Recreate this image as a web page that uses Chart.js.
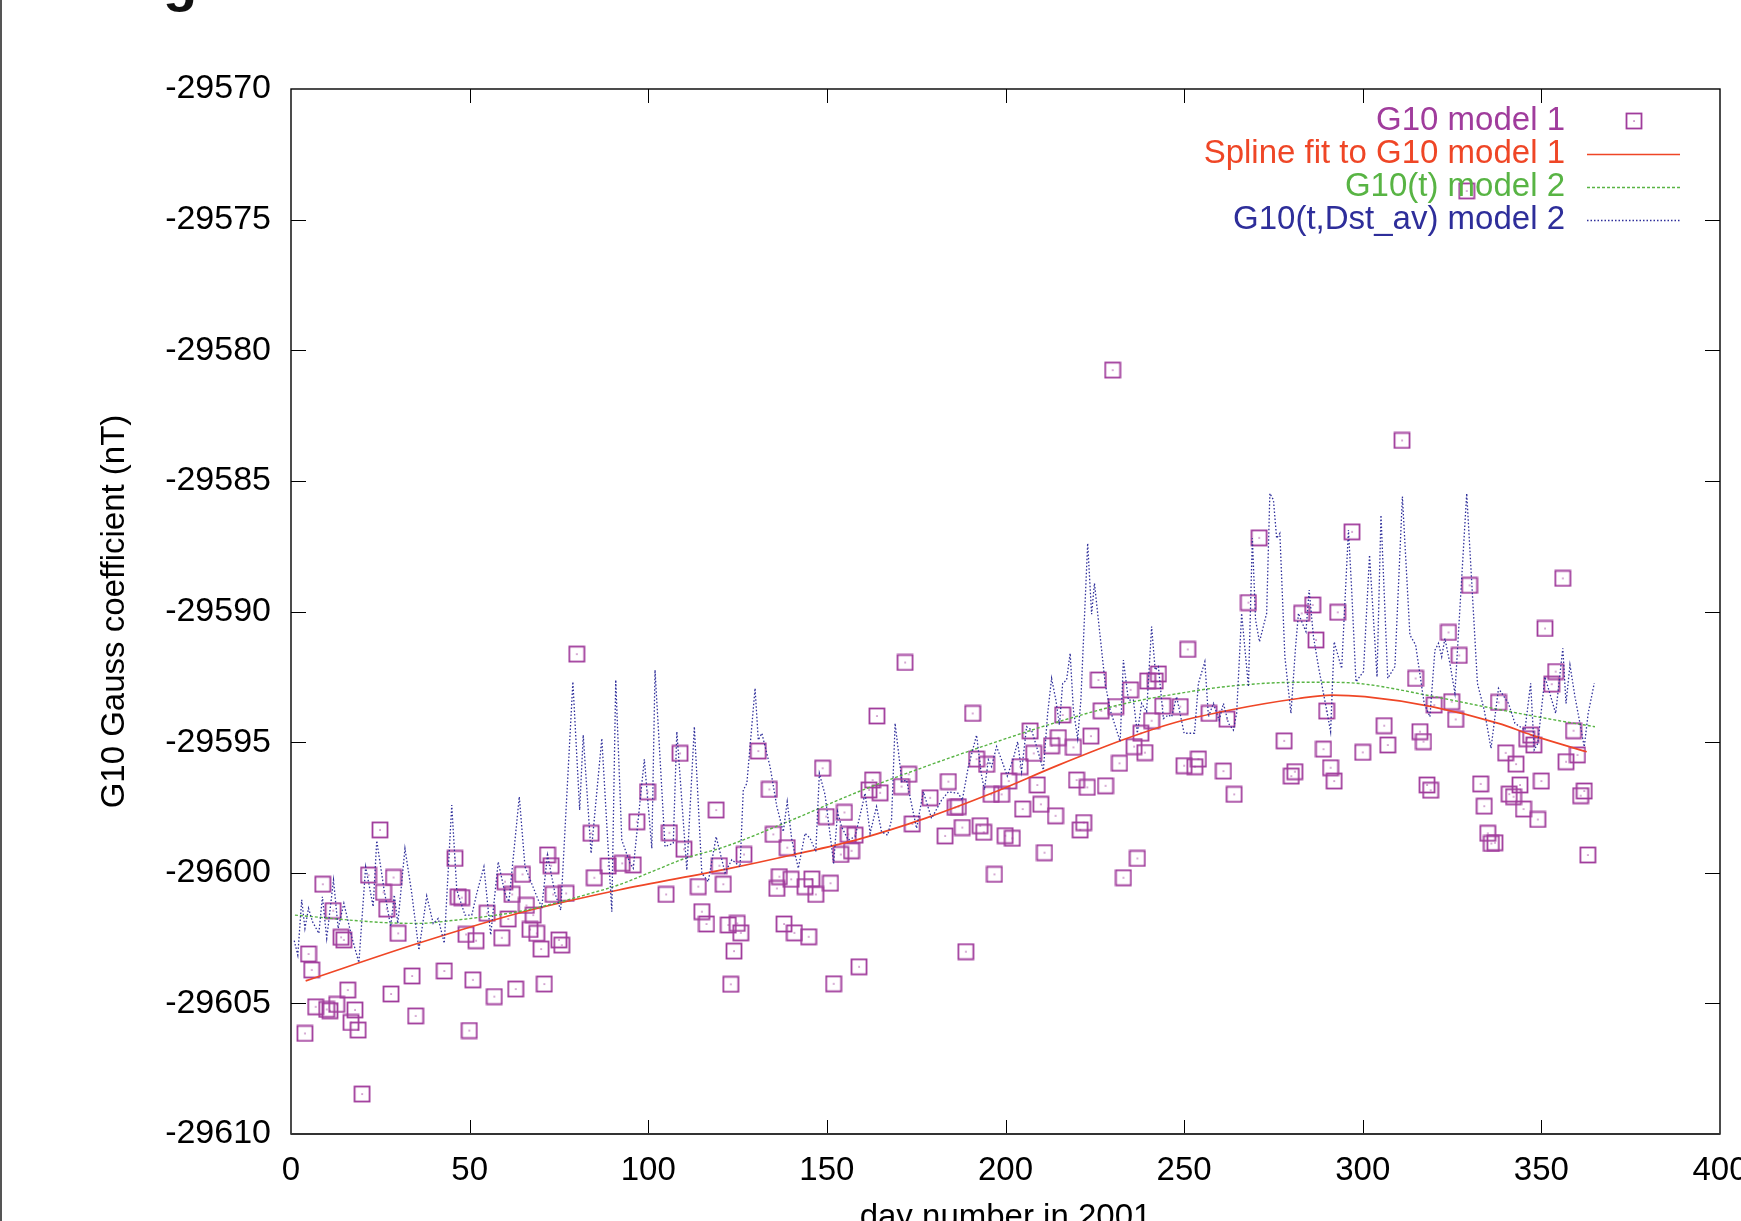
<!DOCTYPE html>
<html>
<head>
<meta charset="utf-8">
<script src="https://cdn.jsdelivr.net/npm/chart.js@4.4.1/dist/chart.umd.min.js"></script>
<style>
html, body { margin: 0; padding: 0; background: #fff; }
canvas { display: block; }
</style>
</head>
<body>
<canvas id="chart" width="1741" height="1221"></canvas>
<script>
// day, value pairs
const g10Model1 = [
  [80.0,-29591.63],[24.9,-29598.36],[45.9,-29599.45],[108.9,-29595.43],[99.8,-29596.90],[96.8,-29598.05],
  [119.0,-29597.60],[84.0,-29598.49],[105.9,-29598.47],[110.0,-29599.10],[71.8,-29599.32],[72.8,-29599.73],
  [21.7,-29600.09],[28.7,-29600.18],[8.9,-29600.44],[84.9,-29600.19],[88.8,-29599.74],[92.7,-29599.64],
  [95.8,-29599.70],[64.8,-29600.06],[59.9,-29600.34],[119.9,-29599.73],[114.0,-29600.53],[121.0,-29600.44],
  [105.0,-29600.83],[25.9,-29600.75],[26.8,-29601.39],[11.8,-29601.45],[46.8,-29600.92],[47.8,-29600.95],
  [61.9,-29600.83],[54.9,-29601.55],[65.9,-29601.25],[67.8,-29601.62],[60.8,-29601.77],[73.4,-29600.83],
  [77.0,-29600.79],[115.0,-29601.49],[116.3,-29601.96],[14.0,-29602.47],[14.8,-29602.57],[30.0,-29602.32],
  [49.0,-29602.36],[51.8,-29602.60],[59.0,-29602.49],[66.9,-29602.17],[68.8,-29602.32],[70.0,-29602.92],
  [75.0,-29602.57],[75.8,-29602.77],[4.9,-29603.11],[5.8,-29603.72],[15.9,-29604.49],[33.9,-29603.95],
  [42.9,-29603.76],[50.9,-29604.10],[28.0,-29604.64],[56.9,-29604.74],[62.9,-29604.45],[70.9,-29604.26],
  [6.9,-29605.13],[10.0,-29605.23],[10.9,-29605.28],[12.8,-29605.04],[17.9,-29605.25],[16.8,-29605.73],
  [18.8,-29606.02],[3.9,-29606.15],[34.9,-29605.48],[49.9,-29606.04],[19.9,-29608.47],
  [171.9,-29591.95],[164.0,-29594.00],[190.8,-29593.90],[130.8,-29595.34],[133.9,-29596.81],[148.8,-29596.00],
  [135.0,-29598.53],[138.9,-29599.04],[126.8,-29599.30],[149.8,-29597.85],[154.9,-29597.69],[156.0,-29598.53],
  [157.9,-29598.56],[156.9,-29599.16],[153.9,-29599.30],[162.8,-29596.45],[161.8,-29596.83],[164.9,-29596.94],
  [170.9,-29596.70],[172.9,-29596.23],[178.9,-29597.13],[173.9,-29598.13],[184.0,-29596.51],[185.9,-29597.50],
  [186.8,-29597.47],[191.9,-29595.65],[194.7,-29595.85],[183.1,-29598.59],[187.9,-29598.27],[192.9,-29598.20],
  [193.9,-29598.45],[196.0,-29597.00],[198.9,-29597.00],[200.9,-29596.49],[204.1,-29595.94],[206.9,-29594.57],
  [207.9,-29595.43],[199.9,-29598.58],[201.9,-29598.68],[204.8,-29597.56],[208.9,-29596.64],[209.9,-29597.38],
  [214.0,-29597.82],[210.9,-29599.23],[196.9,-29600.06],[212.9,-29595.14],[214.8,-29594.83],[219.0,-29595.20],
  [216.0,-29593.96],[223.9,-29594.77],[226.0,-29592.62],[226.8,-29593.80],[230.9,-29593.64],[235.0,-29593.00],
  [239.8,-29592.66],[241.9,-29592.66],[242.8,-29592.39],[244.0,-29593.62],[240.9,-29594.18],[231.9,-29595.81],
  [236.0,-29595.17],[237.9,-29594.66],[239.0,-29595.40],[219.9,-29596.45],[222.9,-29596.73],[228.0,-29596.67],
  [221.9,-29598.08],[220.9,-29598.36],[236.9,-29599.45],[233.0,-29600.19],[136.7,-29600.15],[136.0,-29600.60],
  [140.0,-29600.25],[143.9,-29600.53],[145.8,-29600.24],[146.9,-29600.83],[151.0,-29600.40],[122.4,-29602.00],
  [124.9,-29601.94],[125.9,-29602.30],[124.0,-29603.00],[123.1,-29604.27],[138.0,-29601.96],[140.9,-29602.30],
  [144.9,-29602.45],[159.0,-29603.60],[151.9,-29604.25],[188.9,-29603.02],[230.0,-29580.76],
  [297.0,-29586.95],[271.0,-29587.18],[268.0,-29589.66],[282.9,-29590.07],[286.0,-29589.75],[286.9,-29591.09],
  [293.0,-29590.03],[329.9,-29589.00],[356.0,-29588.73],[351.0,-29590.65],[251.0,-29591.45],[324.0,-29590.80],
  [327.0,-29591.68],[314.8,-29592.56],[354.0,-29592.30],[352.9,-29592.78],[248.9,-29593.64],[257.0,-29593.90],
  [262.0,-29594.12],[289.9,-29593.81],[320.0,-29593.58],[324.9,-29593.45],[326.0,-29594.13],[338.0,-29593.48],
  [359.0,-29594.56],[278.0,-29594.95],[289.0,-29595.27],[300.0,-29595.39],[306.0,-29594.37],[307.0,-29595.11],
  [316.0,-29594.60],[317.0,-29594.98],[340.0,-29595.41],[342.9,-29595.84],[345.9,-29594.87],[347.0,-29594.73],
  [347.9,-29595.11],[360.1,-29595.49],[356.9,-29595.75],[250.0,-29595.90],[253.0,-29595.94],[254.0,-29595.65],
  [261.0,-29596.11],[264.0,-29597.00],[280.0,-29596.30],[281.0,-29596.13],[291.0,-29595.98],[292.0,-29596.49],
  [318.0,-29596.64],[319.0,-29596.84],[333.0,-29596.60],[334.0,-29597.45],[344.0,-29596.64],[341.0,-29596.99],
  [342.2,-29597.09],[345.0,-29597.56],[350.0,-29596.49],[349.0,-29597.96],[362.0,-29596.87],[361.0,-29597.05],
  [335.0,-29598.49],[336.0,-29598.88],[337.0,-29598.85],[363.0,-29599.32],[311.0,-29583.45],[329.1,-29573.90]
];

const splineFit = [
  [4.1,-29604.14],[35.6,-29602.70],[63.6,-29601.55],[91.7,-29600.66],[121.5,-29599.87],[140.2,-29599.32],
  [158.8,-29598.72],[177.5,-29597.92],[196.1,-29596.96],[214.8,-29595.88],[233.5,-29594.88],[247.5,-29594.25],
  [263.3,-29593.76],[282.0,-29593.33],[291.3,-29593.20],[300.6,-29593.26],[319.3,-29593.64],[338.0,-29594.28],
  [347.3,-29594.73],[362.7,-29595.37]
];

const g10tModel2 = [
  [1.1,-29601.62],[26.3,-29601.91],[35.6,-29601.94],[45.0,-29601.83],[54.3,-29601.68],[63.6,-29601.49],
  [73.0,-29601.20],[82.3,-29600.85],[91.6,-29600.47],[101.0,-29599.96],[110.3,-29599.45],[121.5,-29599.00],
  [140.2,-29597.98],[158.8,-29596.90],[177.5,-29595.94],[196.1,-29595.05],[214.8,-29594.22],[233.5,-29593.52],
  [247.5,-29593.16],[263.3,-29592.85],[282.0,-29592.71],[291.3,-29592.71],[300.6,-29592.78],[319.3,-29593.24],
  [338.0,-29593.75],[356.6,-29594.22],[365.0,-29594.41]
];

const g10tDstModel2 = [
  [0.9,-29602.60],[1.9,-29603.15],[3.0,-29601.04],[3.9,-29602.13],[4.9,-29601.36],[6.0,-29601.87],
  [7.8,-29602.32],[8.8,-29600.92],[10.0,-29602.51],[11.9,-29600.28],[13.2,-29602.13],[14.8,-29601.17],
  [17.0,-29602.45],[19.0,-29603.44],[20.9,-29599.77],[23.0,-29601.30],[24.0,-29598.77],[26.0,-29600.60],
  [27.9,-29602.06],[28.9,-29600.85],[29.9,-29601.94],[31.9,-29599.07],[33.8,-29600.79],[35.8,-29602.96],
  [38.0,-29600.89],[39.8,-29601.94],[41.2,-29601.75],[42.9,-29602.70],[45.0,-29597.41],[46.4,-29600.66],
  [48.7,-29601.62],[50.6,-29601.62],[52.0,-29600.79],[54.0,-29599.77],[55.9,-29602.38],[58.0,-29599.58],
  [59.9,-29600.79],[61.0,-29601.11],[63.9,-29597.09],[65.5,-29599.77],[69.2,-29601.04],[70.2,-29601.30],
  [71.8,-29599.32],[73.9,-29600.79],[75.5,-29601.43],[78.9,-29592.69],[80.8,-29597.60],[81.8,-29594.73],
  [84.0,-29599.26],[87.0,-29594.86],[89.8,-29601.49],[90.9,-29592.62],[92.6,-29598.75],[94.9,-29599.64],
  [95.8,-29599.83],[98.9,-29595.66],[101.0,-29599.07],[101.9,-29592.24],[104.7,-29599.00],[107.0,-29598.87],
  [108.0,-29594.60],[110.8,-29599.90],[112.9,-29594.41],[115.0,-29600.02],[116.8,-29600.34],[119.0,-29598.62],
  [121.5,-29600.00],[123.4,-29599.50],[125.7,-29599.77],[126.6,-29596.83],[127.6,-29596.58],[129.9,-29592.94],
  [130.8,-29594.92],[131.8,-29594.66],[134.1,-29595.94],[136.0,-29597.47],[137.8,-29598.43],[138.9,-29597.28],
  [140.2,-29598.75],[142.0,-29599.83],[143.9,-29598.49],[145.3,-29598.68],[146.9,-29599.19],[147.9,-29596.20],
  [149.5,-29597.02],[151.9,-29599.64],[153.0,-29597.66],[154.1,-29598.24],[156.0,-29598.75],[157.9,-29598.62],
  [160.7,-29596.96],[162.1,-29598.49],[163.9,-29597.47],[165.3,-29598.43],[167.0,-29598.56],[168.1,-29597.98],
  [169.1,-29594.28],[171.0,-29596.51],[172.3,-29596.45],[175.1,-29598.30],[177.0,-29596.90],[179.3,-29597.92],
  [182.1,-29597.22],[184.0,-29596.90],[186.8,-29596.96],[187.9,-29597.22],[189.6,-29595.94],[191.9,-29594.73],
  [193.2,-29596.20],[194.1,-29596.83],[195.2,-29595.68],[196.1,-29595.94],[197.5,-29595.17],[198.9,-29595.68],
  [200.5,-29596.30],[202.2,-29595.62],[203.4,-29594.98],[204.5,-29596.13],[205.9,-29594.41],[207.3,-29594.54],
  [208.7,-29595.17],[210.6,-29596.07],[211.8,-29593.90],[212.9,-29592.56],[214.1,-29593.39],[215.1,-29594.34],
  [216.0,-29592.75],[217.1,-29592.62],[218.1,-29591.60],[219.0,-29593.77],[220.2,-29594.86],[221.1,-29593.39],
  [223.0,-29587.39],[224.1,-29590.10],[224.9,-29588.92],[227.9,-29592.75],[229.3,-29593.77],[232.1,-29594.98],
  [233.0,-29591.86],[234.4,-29593.39],[235.8,-29593.39],[236.9,-29594.66],[238.1,-29593.52],[239.5,-29593.83],
  [240.9,-29590.58],[241.9,-29592.24],[242.8,-29592.11],[244.2,-29594.10],[245.6,-29593.96],[246.5,-29594.03],
  [247.9,-29593.26],[250.0,-29594.66],[252.9,-29594.66],[254.0,-29592.75],[255.8,-29591.92],[256.8,-29594.03],
  [258.2,-29593.52],[259.8,-29594.16],[261.0,-29593.52],[262.4,-29594.28],[263.8,-29594.54],[264.7,-29593.90],
  [266.1,-29590.07],[268.0,-29592.88],[269.1,-29587.20],[270.0,-29590.33],[271.1,-29591.16],[273.1,-29590.07],
  [274.0,-29585.48],[275.0,-29585.73],[275.9,-29587.20],[276.8,-29587.01],[278.2,-29591.73],[279.9,-29593.90],
  [281.2,-29591.35],[282.0,-29590.07],[283.1,-29590.45],[284.1,-29590.77],[285.0,-29589.18],[286.2,-29590.96],
  [287.6,-29592.11],[289.0,-29593.13],[289.9,-29593.77],[291.0,-29594.60],[292.0,-29591.16],[294.1,-29592.18],
  [296.0,-29586.88],[296.9,-29589.18],[298.1,-29592.69],[300.2,-29592.30],[301.9,-29587.84],[304.0,-29592.50],
  [305.1,-29586.31],[307.0,-29592.56],[309.0,-29592.11],[311.1,-29585.60],[313.2,-29590.90],[314.8,-29591.28],
  [317.2,-29593.52],[318.8,-29594.03],[320.2,-29591.48],[321.2,-29591.22],[322.1,-29591.73],[323.0,-29591.03],
  [324.4,-29591.99],[325.8,-29593.13],[327.5,-29589.18],[329.1,-29585.48],[330.0,-29587.65],[332.1,-29592.75],
  [334.0,-29593.77],[335.9,-29595.24],[338.0,-29592.94],[340.8,-29593.52],[342.6,-29594.28],[345.4,-29594.54],
  [347.0,-29592.75],[348.0,-29595.30],[349.0,-29595.05],[351.0,-29592.50],[354.0,-29593.90],[356.0,-29591.41],
  [356.9,-29593.52],[358.0,-29592.05],[359.4,-29593.26],[360.8,-29594.28],[362.0,-29595.18],[363.1,-29593.90],
  [364.8,-29592.75]
];

const xTickValues = [0, 50, 100, 150, 200, 250, 300, 350, 400];
const yTickValues = [-29570, -29575, -29580, -29585, -29590, -29595, -29600, -29605, -29610];
const seriesLabels = ['G10 model 1', 'Spline fit to G10 model 1', 'G10(t) model 2', 'G10(t,Dst_av) model 2'];
const xTitle = 'day number in 2001';
const yTitle = 'G10 Gauss coefficient (nT)';
const titleFragment = 'g';

const FONT = '"Liberation Sans", Arial, Helvetica, sans-serif';
const PURPLE = '#a03c9c', RED = '#ef4626', GREEN = '#58b444', BLUE = '#2e2e9a';

Chart.defaults.font.family = FONT;
Chart.defaults.font.size = 33;
Chart.defaults.color = '#000';

function boxMarker() {
    const c = document.createElement('canvas');
    c.width = 18; c.height = 18;
    const g = c.getContext('2d');
    g.strokeStyle = PURPLE; g.lineWidth = 1.8;
    g.strokeRect(1.5, 1.5, 15, 15);
    g.fillStyle = PURPLE; g.fillRect(8.4, 8.4, 1.3, 1.3);
    return c;
}
const marker = boxMarker();
const toXY = arr => arr.map(p => ({x: p[0], y: p[1]}));

const framePlugin = {
    id: 'frame',
    beforeDraw(chart) {
        const ctx = chart.ctx;
        ctx.save();
        ctx.fillStyle = '#fff';
        ctx.fillRect(0, 0, chart.width, chart.height);
        ctx.strokeStyle = '#555'; ctx.lineWidth = 2;
        ctx.beginPath(); ctx.moveTo(1, 0); ctx.lineTo(1, chart.height); ctx.stroke();
        ctx.fillStyle = '#111';
        ctx.font = 'bold 56px ' + FONT;
        ctx.textBaseline = 'alphabetic';
        ctx.fillText(titleFragment, 163, 0);
        ctx.restore();
    },
    beforeDatasetsDraw(chart) {
        const {ctx, chartArea: a, scales: {x, y}} = chart;
        ctx.save();
        ctx.strokeStyle = '#000'; ctx.lineWidth = 1;
        ctx.beginPath();
        xTickValues.slice(1, -1).forEach(v => {
            const px = Math.round(x.getPixelForValue(v)) + 0.5;
            ctx.moveTo(px, a.bottom); ctx.lineTo(px, a.bottom - 14);
            ctx.moveTo(px, a.top); ctx.lineTo(px, a.top + 14);
        });
        yTickValues.slice(1, -1).forEach(v => {
            const py = Math.round(y.getPixelForValue(v)) + 0.5;
            ctx.moveTo(a.left, py); ctx.lineTo(a.left + 15, py);
            ctx.moveTo(a.right, py); ctx.lineTo(a.right - 15, py);
        });
        ctx.stroke();
        ctx.lineWidth = 1.4;
        ctx.strokeRect(a.left, a.top, a.right - a.left, a.bottom - a.top);
        ctx.strokeStyle = '#333'; ctx.lineWidth = 2.2;
        ctx.beginPath(); ctx.moveTo(a.left, a.bottom); ctx.lineTo(a.right, a.bottom); ctx.stroke();
        ctx.restore();
    }
};

const keyPlugin = {
    id: 'key',
    afterDatasetsDraw(chart) {
        const {ctx, chartArea: a} = chart;
        const textRight = a.right - 155, x0 = a.right - 133, x1 = a.right - 40;
        ctx.save();
        ctx.font = '33px ' + FONT;
        ctx.textAlign = 'right';
        ctx.textBaseline = 'middle';
        chart.data.datasets.forEach((ds, i) => {
            const yy = a.top + 32 + i * 33;
            ctx.fillStyle = ds.borderColor;
            ctx.fillText(ds.label, textRight, yy);
            if (ds.showLine) {
                ctx.strokeStyle = ds.borderColor;
                ctx.lineWidth = ds.borderWidth;
                ctx.setLineDash(ds.borderDash || []);
                ctx.beginPath(); ctx.moveTo(x0, yy + 0.5); ctx.lineTo(x1, yy + 0.5); ctx.stroke();
            } else {
                ctx.drawImage(marker, Math.round((x0 + x1) / 2) - 9, Math.round(yy) - 9);
            }
        });
        ctx.restore();
    }
};

new Chart(document.getElementById('chart'), {
    type: 'scatter',
    data: {
        datasets: [
            {label: seriesLabels[0], data: toXY(g10Model1), borderColor: PURPLE, backgroundColor: PURPLE,
             pointStyle: marker, pointRadius: 9, showLine: false, order: 4},
            {label: seriesLabels[1], data: toXY(splineFit), borderColor: RED, borderWidth: 1.7,
             showLine: true, pointRadius: 0, cubicInterpolationMode: 'monotone', order: 3},
            {label: seriesLabels[2], data: toXY(g10tModel2), borderColor: GREEN, borderWidth: 1.4, borderDash: [3, 2],
             showLine: true, pointRadius: 0, cubicInterpolationMode: 'monotone', order: 2},
            {label: seriesLabels[3], data: toXY(g10tDstModel2), borderColor: BLUE, borderWidth: 1.3, borderDash: [1.5, 2],
             showLine: true, pointRadius: 0, tension: 0, order: 1}
        ]
    },
    options: {
        responsive: false,
        animation: false,
        events: [],
        layout: {padding: {top: 89, right: 21, left: 0, bottom: 0}},
        plugins: {legend: {display: false}, tooltip: {enabled: false}},
        scales: {
            x: {
                type: 'linear', min: 0, max: 400,
                afterBuildTicks: s => { s.ticks = xTickValues.map(v => ({value: v})); },
                afterFit: s => { s.height = 87; s.paddingLeft = 0; s.paddingRight = 0; },
                ticks: {padding: 17, maxRotation: 0, autoSkip: false, callback: v => String(v)},
                grid: {display: false, drawTicks: false},
                border: {display: false},
                title: {display: true, text: xTitle, padding: {top: 0, bottom: -17}}
            },
            y: {
                type: 'linear', min: -29610, max: -29570,
                afterBuildTicks: s => { s.ticks = yTickValues.map(v => ({value: v})); },
                afterFit: s => { s.width = 291; s.paddingTop = 0; s.paddingBottom = 0; },
                ticks: {padding: 20, autoSkip: false, font: {size: 34}, callback: v => String(v)},
                grid: {display: false, drawTicks: false},
                border: {display: false},
                title: {display: true, text: yTitle, padding: {top: 95, bottom: 0}}
            }
        }
    },
    plugins: [framePlugin, keyPlugin]
});
</script>
</body>
</html>
